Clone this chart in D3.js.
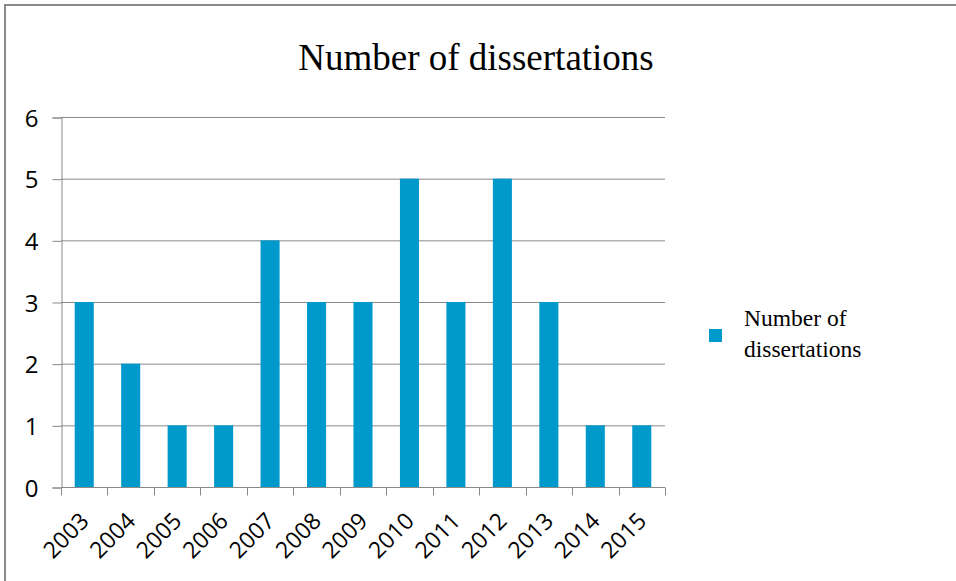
<!DOCTYPE html>
<html>
<head>
<meta charset="utf-8">
<script src="https://cdn.jsdelivr.net/npm/d3@7"></script>
<style>
  body { margin: 0; background: #fff; }
  .axis text { font-family: "Open Sans", "Noto Sans", sans-serif; fill: #000; }
</style>
</head>
<body>
<svg width="956" height="581"></svg>
<script>
// data
var years = ["2003", "2004", "2005", "2006", "2007", "2008", "2009", "2010", "2011", "2012", "2013", "2014", "2015"];
var counts = [3, 2, 1, 1, 4, 3, 3, 5, 3, 5, 3, 1, 1];
var yTicks = [0, 1, 2, 3, 4, 5, 6];
var seriesName = "Number of dissertations";

var svg = d3.select("svg"),
    margin = { top: 117, right: 291, bottom: 94, left: 61 },
    width = +svg.attr("width") - margin.left - margin.right,
    height = +svg.attr("height") - margin.top - margin.bottom;

var axisColor = "#898989",
    barColor = "#0099cc",
    serif = "'Liberation Serif', 'Times New Roman', serif";

// kader
svg.append("path")
    .attr("d", "M5,581V5H956")
    .attr("fill", "none")
    .attr("stroke", "#8a8a8a")
    .attr("stroke-width", 2);

var x = d3.scaleBand().domain(years).range([0, width]).paddingInner(0.59).paddingOuter(0.295),
    y = d3.scaleLinear().domain([0, 6]).range([height, 0]);

var g = svg.append("g")
    .attr("transform", "translate(" + margin.left + "," + margin.top + ")");

// gridlines
g.selectAll(".grid")
    .data(yTicks.filter(function (d) { return d > 0; }))
    .enter().append("line")
    .attr("class", "grid")
    .attr("x1", 0).attr("x2", width)
    .attr("y1", function (d) { return y(d) + 0.5; })
    .attr("y2", function (d) { return y(d) + 0.5; })
    .attr("stroke", axisColor);

// y-as
var yAxis = g.append("g")
    .attr("class", "axis")
    .attr("transform", "translate(0.5,0.5)")
    .call(d3.axisLeft(y).tickValues(yTicks).tickFormat(d3.format("d")).tickSize(9).tickPadding(14));
yAxis.select(".domain").attr("stroke", axisColor);
yAxis.selectAll(".tick line").attr("stroke", axisColor);
yAxis.selectAll("text").attr("font-size", 24).attr("dy", "0.36em");

// x-as: ticks op de grenzen van de categorieen
var xAxis = g.append("g")
    .attr("class", "axis")
    .attr("transform", "translate(0," + (height + 0.5) + ")");
xAxis.append("line")
    .attr("x1", 0).attr("x2", width)
    .attr("stroke", axisColor);
var step = x.step();
xAxis.selectAll(".xtick")
    .data(d3.range(years.length + 1))
    .enter().append("line")
    .attr("class", "xtick")
    .attr("x1", function (i) { return Math.round(i * step) + 0.5; })
    .attr("x2", function (i) { return Math.round(i * step) + 0.5; })
    .attr("y1", 0).attr("y2", 8)
    .attr("stroke", axisColor);
xAxis.selectAll(".xlabel")
    .data(years)
    .enter().append("text")
    .attr("class", "xlabel")
    .attr("font-size", 23)
    .attr("text-anchor", "end")
    .attr("transform", function (d) {
        return "translate(" + (x(d) + x.bandwidth() / 2 + 6) + ",35) rotate(-45)";
    })
    .text(function (d) { return d; });

// staven
g.selectAll(".bar")
    .data(years)
    .enter().append("rect")
    .attr("class", "bar")
    .attr("x", function (d) { return x(d); })
    .attr("y", function (d, i) { return y(counts[i]); })
    .attr("width", x.bandwidth())
    .attr("height", function (d, i) { return height - y(counts[i]); })
    .attr("fill", barColor);

// titel
svg.append("text")
    .attr("x", 476)
    .attr("y", 70)
    .attr("text-anchor", "middle")
    .attr("font-family", serif)
    .attr("font-size", 37)
    .text(seriesName);

// legenda
var legend = svg.append("g").attr("transform", "translate(709,329)");
legend.append("rect")
    .attr("width", 13).attr("height", 13)
    .attr("fill", barColor);
legend.append("text")
    .attr("font-family", serif)
    .attr("font-size", 23.5)
    .selectAll("tspan")
    .data(["Number of", "dissertations"])
    .enter().append("tspan")
    .attr("x", 35)
    .attr("y", function (d, i) { return -3 + i * 31; })
    .text(function (d) { return d; });
</script>
</body>
</html>
